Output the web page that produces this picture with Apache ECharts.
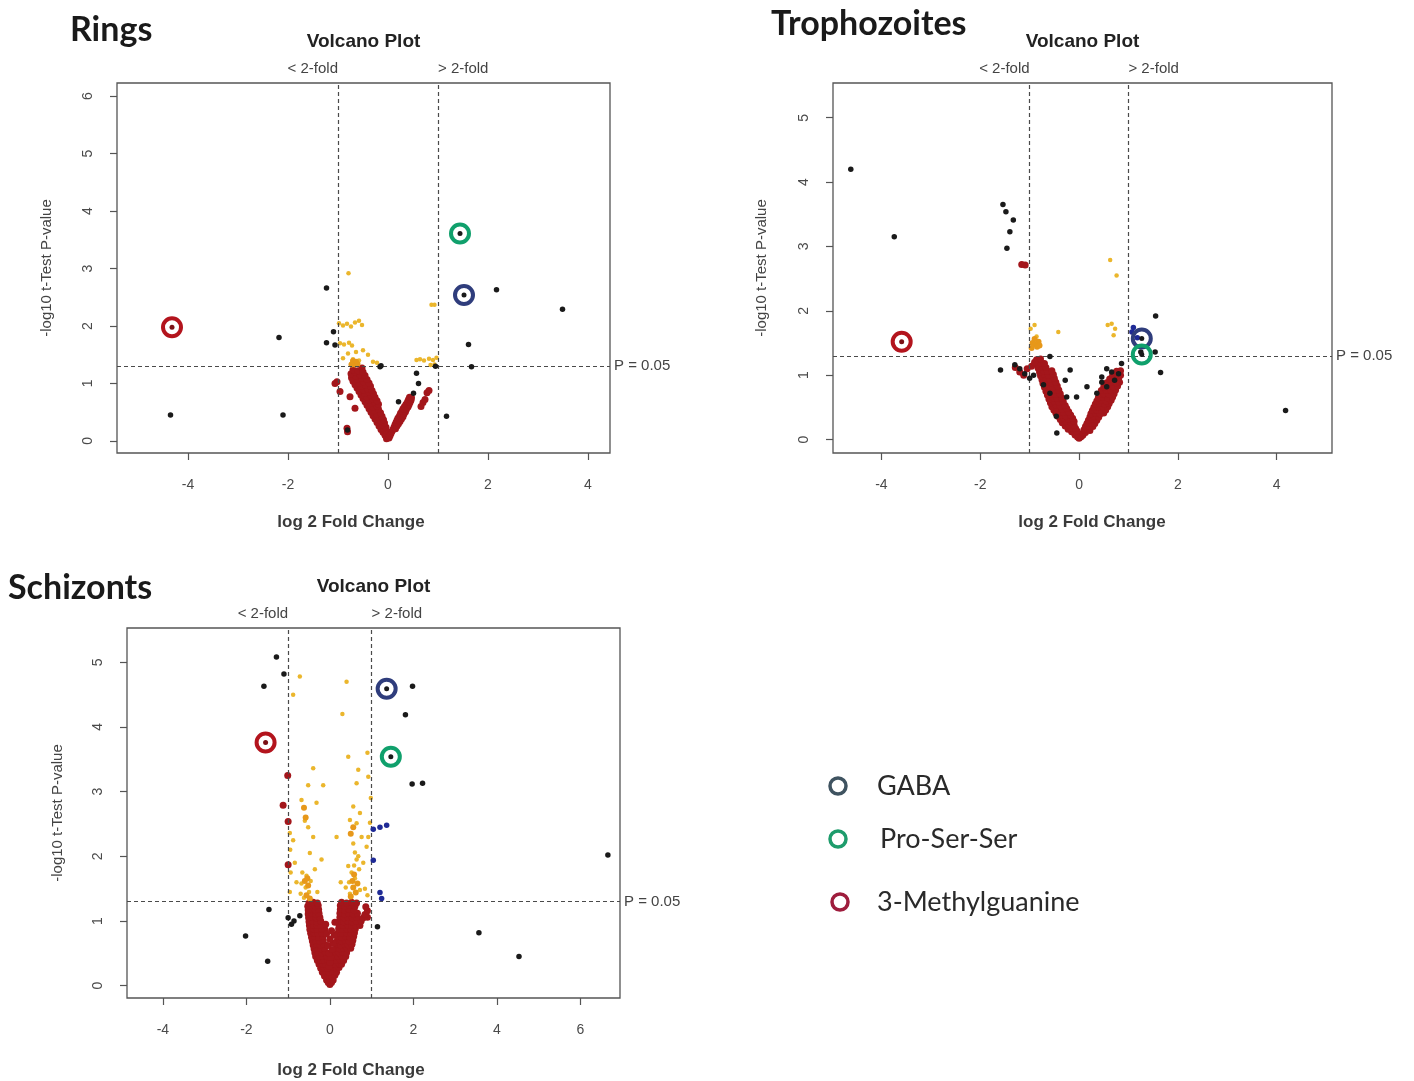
<!DOCTYPE html>
<html>
<head>
<meta charset="utf-8">
<script src="https://cdn.jsdelivr.net/npm/echarts@6/dist/echarts.min.js"></script>
<style>
  html, body { margin: 0; padding: 0; background: #ffffff; }
  #chart { width: 1414px; height: 1081px; }
</style>
</head>
<body>
<div id="chart"></div>
<script>
// ---------- thresholds ----------
const foldCut = 1;          // log2 fold change of 2-fold
const pCut = 1.301;         // -log10(0.05)

// ---------- tick labels ----------
const ringsXTicks = [-4, -2, 0, 2, 4];
const ringsYTicks = [0, 1, 2, 3, 4, 5, 6];
const trophXTicks = [-4, -2, 0, 2, 4];
const trophYTicks = [0, 1, 2, 3, 4, 5];
const schizXTicks = [-4, -2, 0, 2, 4, 6];
const schizYTicks = [0, 1, 2, 3, 4, 5];

// ---------- Rings: [log2 fold change, -log10 p] ----------
const ringsCore = [
  [-0.03,0.04],[-0.01,0.07],[-0.06,0.1],[-0.03,0.13],[-0.1,0.15],[-0.05,0.18],[-0.14,0.2],[-0.09,0.22],[-0.04,0.24],
  [-0.18,0.26],[-0.12,0.28],[-0.07,0.31],[-0.22,0.32],[-0.15,0.35],[-0.09,0.37],[-0.26,0.38],[-0.19,0.41],[-0.12,0.43],
  [-0.3,0.44],[-0.23,0.47],[-0.15,0.49],[-0.34,0.5],[-0.27,0.53],[-0.19,0.55],[-0.38,0.56],[-0.31,0.59],[-0.22,0.61],
  [-0.42,0.62],[-0.35,0.65],[-0.26,0.67],[-0.19,0.64],[-0.46,0.68],[-0.39,0.71],[-0.3,0.73],[-0.22,0.7],[-0.5,0.74],
  [-0.43,0.77],[-0.34,0.79],[-0.26,0.76],[-0.54,0.8],[-0.47,0.83],[-0.38,0.85],[-0.29,0.82],[-0.58,0.86],[-0.5,0.89],
  [-0.41,0.91],[-0.32,0.88],[-0.62,0.92],[-0.54,0.95],[-0.45,0.97],[-0.35,0.95],[-0.66,0.98],[-0.58,1.01],[-0.49,1.03],
  [-0.38,1.01],[-0.7,1.04],[-0.62,1.07],[-0.52,1.09],[-0.42,1.07],[-0.73,1.1],[-0.65,1.13],[-0.56,1.15],[-0.74,1.17],
  [-0.66,1.2],[-0.7,1.24],[-0.6,1.22],[-0.52,1.27],[-0.46,1.14],[-0.5,1.2],
  [0.02,0.05],[0.04,0.09],[0.06,0.13],[0.08,0.17],[0.1,0.2],[0.12,0.24],[0.15,0.21],[0.14,0.28],[0.18,0.26],[0.16,0.32],
  [0.21,0.3],[0.18,0.36],[0.24,0.34],[0.2,0.4],[0.27,0.38],[0.23,0.44],[0.3,0.42],[0.25,0.48],[0.32,0.47],[0.28,0.52],
  [0.35,0.51],[0.3,0.56],[0.37,0.55],[0.33,0.6],[0.4,0.59],[0.36,0.64],[0.42,0.63],[0.39,0.68],[0.44,0.67],[0.41,0.72],
  [0.46,0.71],[0.43,0.76],[0.47,0.75],
  [0.7,0.67],[0.74,0.72],[0.78,0.84],[0.82,0.88],[0.66,0.6],[-1.06,1.0],[-1.02,1.03],[-0.96,0.86],[-0.76,0.77],
  [-0.66,0.57],[-0.81,0.16],[-0.82,0.22]
];
const ringsGold = [
  [-0.79,2.92],[-0.98,2.05],[-0.9,2.01],[-0.82,2.04],[-0.74,1.99],[-0.66,2.06],[-0.58,2.09],[-0.52,2.02],[-0.96,1.7],
  [-0.88,1.68],[-0.78,1.71],[-0.72,1.66],[-0.8,1.52],[-0.64,1.55],[-0.5,1.58],[-0.4,1.5],[-0.9,1.44],[-0.7,1.42],
  [-0.58,1.4],[-0.3,1.38],[-0.22,1.36],[0.57,1.41],[0.64,1.42],[0.72,1.4],[0.82,1.43],[0.9,1.41],[0.97,1.45],
  [0.87,2.37],[0.93,2.37],[0.85,1.32],[0.93,1.33]
];
const ringsOrange = [[-0.68,1.36],[-0.64,1.38],[-0.66,1.33],[-0.7,1.39],[-0.61,1.34],[-0.73,1.33]];
const ringsBlue = [];
const ringsBlack = [
  [-4.35,0.45],[-2.1,0.45],[-2.18,1.8],[-1.23,2.66],[-1.23,1.71],[-1.06,1.67],[-1.09,1.9],[2.17,2.63],[3.49,2.29],
  [1.61,1.68],[1.67,1.29],[1.17,0.43],[0.57,1.18],[0.61,1.0],[0.51,0.83],[0.21,0.68],[-0.16,1.29],[-0.14,1.31],
  [-0.81,0.19],[0.95,1.3]
];
const ringsGABA = [1.52, 2.54];
const ringsProSerSer = [1.44, 3.61];
const rings3MG = [-4.32, 1.98];

// ---------- Trophozoites ----------
const trophCore = [
  [0,0.02],[-0.03,0.04],[0.03,0.04],[-0.08,0.07],[-0.03,0.09],[-0.15,0.12],[-0.1,0.11],[-0.04,0.13],
  [-0.22,0.16],[-0.15,0.18],[-0.07,0.17],[-0.28,0.21],[-0.2,0.23],[-0.1,0.22],[-0.34,0.26],[-0.26,0.28],[-0.17,0.27],
  [-0.1,0.28],[-0.38,0.31],[-0.3,0.33],[-0.22,0.32],[-0.13,0.33],[-0.43,0.36],[-0.35,0.38],[-0.27,0.37],[-0.17,0.38],
  [-0.47,0.41],[-0.39,0.43],[-0.31,0.42],[-0.21,0.43],[-0.51,0.46],[-0.43,0.48],[-0.35,0.47],[-0.25,0.48],
  [-0.55,0.51],[-0.46,0.53],[-0.38,0.52],[-0.28,0.53],[-0.58,0.57],[-0.5,0.59],[-0.41,0.58],[-0.32,0.59],
  [-0.61,0.63],[-0.53,0.65],[-0.44,0.64],[-0.35,0.65],[-0.64,0.69],[-0.56,0.71],[-0.47,0.7],[-0.38,0.71],
  [-0.67,0.75],[-0.59,0.77],[-0.5,0.76],[-0.41,0.77],[-0.7,0.81],[-0.62,0.83],[-0.53,0.82],[-0.44,0.83],
  [-0.73,0.87],[-0.65,0.89],[-0.56,0.88],[-0.47,0.89],[-0.75,0.93],[-0.67,0.95],[-0.59,0.94],[-0.5,0.95],
  [-0.78,0.99],[-0.7,1.01],[-0.62,1.0],[-0.52,1.01],[-0.8,1.05],[-0.72,1.07],[-0.64,1.06],[-0.55,1.07],
  [-0.83,1.11],[-0.75,1.13],[-0.67,1.12],[-0.85,1.17],[-0.77,1.19],[-0.7,1.18],[-0.86,1.24],[-0.78,1.25],
  [0.05,0.05],[0.08,0.07],[0.08,0.1],[0.13,0.11],[0.1,0.15],[0.17,0.16],[0.22,0.14],[0.13,0.2],[0.2,0.21],[0.28,0.2],
  [0.16,0.25],[0.24,0.26],[0.32,0.25],[0.19,0.3],[0.27,0.31],[0.36,0.3],[0.22,0.35],[0.3,0.36],[0.4,0.35],
  [0.24,0.4],[0.33,0.41],[0.43,0.4],[0.5,0.41],[0.27,0.45],[0.36,0.46],[0.46,0.45],[0.54,0.46],
  [0.3,0.5],[0.39,0.51],[0.49,0.5],[0.58,0.51],[0.33,0.55],[0.42,0.56],[0.52,0.55],[0.61,0.56],
  [0.36,0.6],[0.45,0.61],[0.55,0.6],[0.65,0.61],[0.39,0.65],[0.48,0.66],[0.58,0.65],[0.68,0.66],
  [0.42,0.7],[0.51,0.71],[0.61,0.7],[0.71,0.71],[0.45,0.76],[0.55,0.77],[0.65,0.76],[0.74,0.77],
  [0.5,0.82],[0.6,0.83],[0.7,0.82],[0.78,0.83],[0.56,0.88],[0.66,0.89],[0.75,0.88],[0.82,0.89],
  [0.62,0.94],[0.72,0.95],[0.8,0.94],[0.68,1.0],[0.78,1.01],[0.84,1.0],[0.76,1.06],[0.84,1.07],
  [-1.29,1.12],[-1.2,1.05],[-1.12,1.0],[-1.05,1.1],[-0.96,1.14],[-0.9,1.2],[-1.09,2.71],[-1.16,2.72]
];
const trophGold = [
  [0.63,2.79],[0.76,2.55],[0.58,1.78],[0.66,1.8],[0.73,1.72],[0.7,1.62],[-0.42,1.67],[-0.98,1.72],[-0.9,1.78],[-0.86,1.6]
];
const trophOrange = [[-0.94,1.5],[-0.88,1.48],[-0.82,1.52],[-0.9,1.56],[-0.85,1.44],[-0.96,1.42],[-0.8,1.46]];
const trophBlue = [[1.1,1.74],[1.07,1.67],[1.18,1.58]];
const trophBlack = [
  [-4.62,4.2],[-3.74,3.15],[-1.54,3.65],[-1.48,3.54],[-1.33,3.41],[-1.4,3.23],[-1.46,2.97],[4.18,0.45],[-1.59,1.08],
  [1.55,1.92],[1.54,1.36],[1.65,1.04],[-1.3,1.16],[-1.2,1.1],[-1.1,1.02],[-1.0,0.95],[-0.92,1.0],[-0.59,1.29],
  [-0.72,0.85],[-0.59,0.72],[-0.25,0.66],[-0.18,1.08],[-0.28,0.92],[-0.45,0.1],[-0.46,0.36],[0.16,0.82],[0.36,0.72],
  [0.46,0.97],[0.56,1.1],[0.66,1.05],[0.72,0.92],[0.8,1.02],[0.86,1.18],[0.46,0.89],[0.56,0.82],[-0.05,0.66],[1.25,1.36]
];
const trophGABA = [1.27, 1.57];
const trophProSerSer = [1.27, 1.32];
const troph3MG = [-3.59, 1.52];

// ---------- Schizonts ----------
const schizCore = [
  [0,0.02],[-0.04,0.05],[0.04,0.05],[-0.08,0.09],[0,0.1],[0.08,0.09],[-0.13,0.15],[-0.05,0.16],[0.04,0.15],[0.12,0.16],
  [-0.18,0.21],[-0.1,0.22],[-0.02,0.21],[0.07,0.22],[0.16,0.21],[-0.22,0.27],[-0.14,0.28],[-0.06,0.27],[0.08,0.28],
  [0.16,0.27],[0.22,0.28],[-0.26,0.33],[-0.18,0.34],[-0.1,0.33],[0.06,0.34],[0.14,0.33],[0.22,0.34],[0.28,0.33],
  [-0.3,0.39],[-0.22,0.4],[-0.13,0.39],[-0.05,0.4],[0.08,0.4],[0.16,0.39],[0.25,0.4],[0.33,0.39],
  [-0.34,0.45],[-0.26,0.46],[-0.17,0.45],[-0.08,0.46],[0.1,0.46],[0.2,0.45],[0.29,0.46],[0.38,0.45],
  [-0.36,0.51],[-0.28,0.52],[-0.19,0.51],[-0.11,0.52],[0.13,0.52],[0.22,0.51],[0.31,0.52],[0.4,0.51],
  [-0.38,0.57],[-0.3,0.58],[-0.21,0.57],[-0.13,0.58],[0.15,0.58],[0.24,0.57],[0.33,0.58],[0.42,0.57],[0.5,0.58],
  [-0.4,0.63],[-0.32,0.64],[-0.23,0.63],[-0.14,0.64],[0.17,0.64],[0.26,0.63],[0.35,0.64],[0.44,0.63],[0.53,0.64],
  [-0.42,0.69],[-0.34,0.7],[-0.25,0.69],[-0.16,0.7],[0.18,0.7],[0.27,0.69],[0.37,0.7],[0.46,0.69],[0.55,0.7],
  [-0.44,0.75],[-0.36,0.76],[-0.27,0.75],[-0.17,0.76],[0.19,0.76],[0.28,0.75],[0.38,0.76],[0.48,0.75],[0.57,0.76],
  [-0.46,0.81],[-0.38,0.82],[-0.29,0.81],[-0.19,0.82],[0.2,0.82],[0.3,0.81],[0.4,0.82],[0.5,0.81],[0.59,0.82],
  [-0.48,0.87],[-0.39,0.88],[-0.3,0.87],[-0.2,0.88],[-0.12,0.87],[0.21,0.88],[0.31,0.87],[0.41,0.88],[0.51,0.87],[0.61,0.88],
  [-0.49,0.93],[-0.4,0.94],[-0.31,0.93],[-0.21,0.94],[0.22,0.94],[0.32,0.93],[0.42,0.94],[0.52,0.93],[0.62,0.94],[0.72,0.93],
  [-0.5,0.99],[-0.41,1.0],[-0.32,0.99],[-0.22,1.0],[0.23,1.0],[0.33,0.99],[0.43,1.0],[0.53,0.99],[0.63,1.0],[0.75,1.0],
  [-0.51,1.05],[-0.42,1.06],[-0.33,1.05],[-0.24,1.06],[0.24,1.06],[0.34,1.05],[0.44,1.06],[0.54,1.05],[0.64,1.06],[0.8,1.05],[0.9,1.06],
  [-0.52,1.11],[-0.43,1.12],[-0.34,1.11],[-0.26,1.12],[0.24,1.12],[0.35,1.11],[0.45,1.12],[0.56,1.11],[0.66,1.12],[0.84,1.1],
  [-0.52,1.17],[-0.44,1.18],[-0.35,1.17],[-0.27,1.18],[0.25,1.18],[0.35,1.17],[0.46,1.18],[0.58,1.17],[0.9,1.16],
  [-0.53,1.23],[-0.44,1.24],[-0.35,1.23],[-0.28,1.24],[0.25,1.24],[0.36,1.23],[0.47,1.24],[0.6,1.23],[0.86,1.22],
  [-0.5,1.28],[-0.4,1.29],[-0.3,1.28],[0.28,1.29],[0.4,1.28],[0.52,1.29],[0.64,1.28],
  [-0.02,0.3],[0.0,0.36],[0.02,0.44],[-0.02,0.5],[0.05,0.56],[-0.05,0.62],[0.08,0.66],[0.0,0.72],[-0.08,0.8],
  [0.1,0.78],[0.04,0.85],[-0.1,0.95],[0.12,0.98],
  [-1.01,3.25],[-1.12,2.79],[-1.0,2.54],[-1.0,1.87]
];
const schizGold = [
  [-0.72,4.78],[-0.88,4.5],[0.4,4.7],[0.44,3.54],[-0.4,3.36],[0.68,3.34],[0.92,3.23],[-0.52,3.1],[0.64,3.13],
  [-0.68,2.87],[-0.32,2.83],[0.56,2.77],[0.72,2.67],[0.48,2.56],[0.64,2.51],[-0.96,2.36],[-0.88,2.25],[-0.4,2.3],
  [0.16,2.3],[-0.48,2.05],[0.56,2.2],[0.6,2.06],[0.64,1.95],[0.58,1.86],[0.88,2.15],[0.92,2.3],[0.96,2.52],[0.98,2.9],
  [-0.95,2.1],[-0.94,1.75],[-0.96,1.45],[-0.66,1.75],[-0.56,1.7],[-0.46,1.62],[-0.68,1.58],[-0.58,1.52],[-0.5,1.45],
  [-0.7,1.42],[-0.62,1.36],[0.44,1.85],[0.52,1.75],[0.6,1.66],[0.46,1.6],[0.38,1.52],[0.48,1.42],[0.7,1.8],[0.8,1.9],
  [0.84,1.5],[0.9,1.4],[-0.8,1.6],[-0.84,1.9],[-0.2,1.95],[0.26,1.6],[0.72,1.48],[-0.3,1.45],[-0.16,3.1],[0.3,4.2],
  [-0.6,2.55],[0.9,3.6],[0.76,2.3],[0.68,2.0],[-0.52,2.45],[-0.36,1.8]
];
const schizOrange = [
  [-0.56,1.4],[-0.48,1.35],[-0.52,1.55],[-0.6,1.62],[0.5,1.38],[0.56,1.52],[0.62,1.44],[0.54,1.62],[0.58,1.72],
  [0.66,1.58],[-0.54,1.66],[0.5,2.35],[0.56,2.45],[-0.62,2.75],[-0.58,2.6]
];
const schizBlue = [[1.04,2.42],[1.2,2.45],[1.36,2.48],[1.04,1.94],[1.2,1.44],[1.24,1.35]];
const schizBlack = [
  [-1.28,5.08],[-1.1,4.82],[-1.58,4.63],[1.98,4.63],[1.81,4.19],[1.97,3.12],[2.22,3.13],[6.66,2.02],[3.57,0.82],
  [4.53,0.45],[-1.46,1.18],[-2.02,0.77],[-1.49,0.38],[1.14,0.91],[-1.0,1.05],[-0.86,1.0],[-0.72,1.08],[-0.92,0.95]
];
const schizGABA = [1.36, 4.59];
const schizProSerSer = [1.46, 3.54];
const schiz3MG = [-1.54, 3.76];

// ---------- styling ----------
const COL = {
  core: '#a3161b', gold: '#ebb62c', orange: '#e7981a', blue: '#1f2a96', black: '#1a1a1a',
  gaba: '#2f3d7c', pro: '#10a06c', mg: '#b3141d'
};
const LEG = { gaba: '#3f5360', pro: '#1e9c6c', mg: '#9e1d3d' };
const axisFont = '"Liberation Sans", Arial, sans-serif';

const panels = [
  { title: 'Rings', grid: { left: 117, top: 83, width: 493, height: 370 }, xr: [-5.42, 4.44], yr: [-0.21, 6.23],
    xt: ringsXTicks, yt: ringsYTicks, core: ringsCore, gold: ringsGold, orange: ringsOrange, blue: ringsBlue,
    black: ringsBlack, gaba: ringsGABA, pro: ringsProSerSer, mg: rings3MG,
    titlePos: [70, 30], xNamePos: [351, 522], yNamePos: [47, 268] },
  { title: 'Trophozoites', grid: { left: 833, top: 83, width: 499, height: 370 }, xr: [-4.98, 5.12], yr: [-0.21, 5.54],
    xt: trophXTicks, yt: trophYTicks, core: trophCore, gold: trophGold, orange: trophOrange, blue: trophBlue,
    black: trophBlack, gaba: trophGABA, pro: trophProSerSer, mg: troph3MG,
    titlePos: [771, 24], xNamePos: [1092, 522], yNamePos: [762, 268] },
  { title: 'Schizonts', grid: { left: 127, top: 628, width: 493, height: 370 }, xr: [-4.86, 6.95], yr: [-0.19, 5.53],
    xt: schizXTicks, yt: schizYTicks, core: schizCore, gold: schizGold, orange: schizOrange, blue: schizBlue,
    black: schizBlack, gaba: schizGABA, pro: schizProSerSer, mg: schiz3MG,
    titlePos: [8, 588], xNamePos: [351, 1070], yNamePos: [58, 813] }
];

function dots(i, data, color, size, z) {
  return { type: 'scatter', xAxisIndex: i, yAxisIndex: i, data: data, symbol: 'circle', symbolSize: size,
    itemStyle: { color: color, opacity: 1 }, z: z, silent: true, animation: false };
}
function ring(i, pt, color, name) {
  return { type: 'scatter', name: name, xAxisIndex: i, yAxisIndex: i, data: [pt], symbol: 'circle', symbolSize: 18,
    itemStyle: { color: 'rgba(255,255,255,0)', borderColor: color, borderWidth: 4, opacity: 1 },
    z: 8, silent: true, animation: false };
}

const grids = [], xAxes = [], yAxes = [], series = [];
panels.forEach((p, i) => {
  grids.push(Object.assign({ show: true, borderColor: '#555', borderWidth: 1.3, backgroundColor: 'transparent' }, p.grid));
  xAxes.push({ type: 'value', gridIndex: i, min: p.xr[0], max: p.xr[1],
    axisLine: { show: false, onZero: false }, splitLine: { show: false },
    axisTick: { show: true, length: 7, lineStyle: { color: '#555', width: 1.2 }, customValues: p.xt },
    axisLabel: { customValues: p.xt, margin: 25, fontSize: 14, color: '#4a4a4a', fontFamily: axisFont } });
  yAxes.push({ type: 'value', gridIndex: i, min: p.yr[0], max: p.yr[1],
    axisLine: { show: false, onZero: false }, splitLine: { show: false },
    axisTick: { show: true, length: 7, lineStyle: { color: '#555', width: 1.2 }, customValues: p.yt },
    axisLabel: { customValues: p.yt, rotate: 90, margin: 22, fontSize: 14, color: '#4a4a4a', fontFamily: axisFont } });

  const coreSeries = dots(i, p.core, COL.core, 7, 2);
  coreSeries.markLine = {
    silent: true, symbol: ['none', 'none'], animation: false,
    lineStyle: { type: [4, 3], color: '#4a4a4a', width: 1.2 },
    label: { show: false },
    data: [
      { xAxis: -foldCut }, { xAxis: foldCut },
      { yAxis: pCut, label: { show: true, position: 'end', distance: 4, formatter: 'P = 0.05',
        fontSize: 15, color: '#444', fontFamily: axisFont } }
    ]
  };
  series.push(coreSeries);
  series.push(dots(i, p.gold, COL.gold, 4.5, 3));
  series.push(dots(i, p.orange, COL.orange, 6, 4));
  series.push(dots(i, p.blue, COL.blue, 5.5, 5));
  series.push(dots(i, p.black, COL.black, 5.5, 6));
  series.push(ring(i, p.gaba, COL.gaba, 'GABA'));
  series.push(ring(i, p.pro, COL.pro, 'Pro-Ser-Ser'));
  series.push(ring(i, p.mg, COL.mg, '3-Methylguanine'));
  series.push(dots(i, [p.gaba, p.pro], COL.black, 5, 9));
  series.push(dots(i, [p.mg], '#7a1015', 5, 9));
});

const chart = echarts.init(document.getElementById('chart'), null, { renderer: 'canvas' });
chart.setOption({ animation: false, backgroundColor: '#ffffff', grid: grids, xAxis: xAxes, yAxis: yAxes, series: series });

// annotation text placed from the axis scales
const g = [];
panels.forEach((p, i) => {
  const lo = chart.convertToPixel({ gridIndex: i }, [-foldCut, p.yr[1]]);
  const hi = chart.convertToPixel({ gridIndex: i }, [foldCut, p.yr[1]]);
  const fs = { fontSize: 15, fill: '#444', fontFamily: axisFont, verticalAlign: 'middle' };
  g.push({ type: 'text', x: lo[0], y: lo[1] - 14, style: Object.assign({ text: '< 2-fold', align: 'right' }, fs) });
  g.push({ type: 'text', x: hi[0], y: hi[1] - 14, style: Object.assign({ text: '> 2-fold', align: 'left' }, fs) });
  g.push({ type: 'text', x: p.grid.left + p.grid.width / 2, y: p.grid.top - 41,
    style: { text: 'Volcano Plot', align: 'center', verticalAlign: 'middle', fontSize: 19, fontWeight: 'bold',
      fill: '#222', fontFamily: axisFont } });
  g.push({ type: 'text', x: p.titlePos[0], y: p.titlePos[1],
    style: { text: p.title, align: 'left', verticalAlign: 'middle', fontSize: 34, fontWeight: 'bold',
      fill: '#1a1a1a', fontFamily: 'Lato, "Open Sans", sans-serif' } });
  g.push({ type: 'text', x: p.xNamePos[0], y: p.xNamePos[1],
    style: { text: 'log 2 Fold Change', align: 'center', verticalAlign: 'middle', fontSize: 17, fontWeight: 'bold',
      fill: '#3a3a3a', fontFamily: axisFont } });
  g.push({ type: 'text', x: p.yNamePos[0], y: p.yNamePos[1], rotation: Math.PI / 2,
    style: { text: '-log10 t-Test P-value', align: 'center', verticalAlign: 'middle', fontSize: 15,
      fill: '#444', fontFamily: axisFont } });
});

// compound key
const keyItems = [
  { name: 'GABA', color: LEG.gaba, cx: 838, cy: 786, tx: 877 },
  { name: 'Pro-Ser-Ser', color: LEG.pro, cx: 838, cy: 839, tx: 880 },
  { name: '3-Methylguanine', color: LEG.mg, cx: 840, cy: 902, tx: 877 }
];
keyItems.forEach(k => {
  g.push({ type: 'circle', shape: { cx: k.cx, cy: k.cy, r: 8 }, style: { fill: 'none', stroke: k.color, lineWidth: 3.5 } });
  g.push({ type: 'text', x: k.tx, y: k.cy, style: { text: k.name, align: 'left', verticalAlign: 'middle',
    fontSize: 27, fill: '#2a2a2a', fontFamily: 'Lato, "Open Sans", sans-serif' } });
});

chart.setOption({ graphic: g });
</script>
</body>
</html>
